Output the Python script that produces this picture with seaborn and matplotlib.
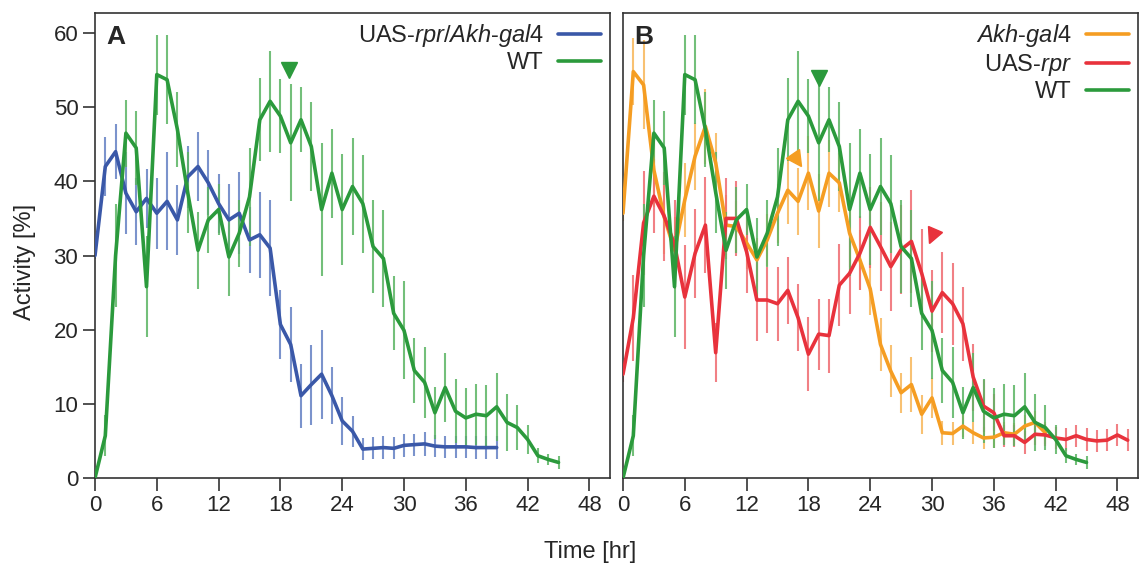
import numpy as np
import matplotlib
matplotlib.use('Agg')
import matplotlib.pyplot as plt
import pandas as pd
import seaborn as sns
from matplotlib.markers import MarkerStyle
from matplotlib.transforms import Affine2D

# Activity [%] per hour
wt = [0.0, 5.7, 30.0, 46.5, 44.5, 25.8, 54.4, 53.7, 47.0, 38.5,
      30.7, 34.8, 36.2, 29.8, 33.0, 37.9, 48.3, 50.8, 48.8, 45.2,
      48.3, 44.7, 36.2, 41.1, 36.2, 39.3, 37.0, 31.2, 29.6, 22.2,
      19.9, 14.5, 12.9, 8.8, 12.2, 9.0, 8.1, 8.6, 8.4, 9.6,
      7.5, 6.8, 5.2, 3.0, 2.5, 2.1]
wt_err = [0.3, 2.8, 7.0, 4.5, 5.0, 6.8, 5.4, 6.0, 5.0, 5.5,
          5.2, 4.5, 3.5, 5.3, 4.5, 6.6, 5.6, 6.8, 5.0, 7.9,
          4.4, 6.0, 9.0, 6.0, 7.5, 6.5, 6.6, 6.3, 6.6, 5.0,
          6.6, 4.4, 4.8, 3.5, 4.6, 4.3, 4.0, 4.1, 4.1, 4.6,
          3.8, 3.0, 1.9, 1.0, 0.8, 0.9]

ablated = [30.0, 42.0, 44.0, 38.4, 35.9, 37.7, 35.7, 37.3, 34.8, 40.6,
           42.0, 39.8, 37.0, 34.8, 35.7, 32.1, 32.8, 31.0, 20.7, 18.0,
           11.1, 12.6, 14.0, 11.1, 7.7, 6.3, 3.9, 4.0, 4.1, 4.0,
           4.4, 4.5, 4.6, 4.3, 4.2, 4.2, 4.2, 4.1, 4.1, 4.1]
ablated_err = [0.5, 4.0, 3.7, 5.5, 4.5, 4.0, 4.8, 6.6, 4.7, 4.2,
               4.7, 4.4, 4.0, 4.8, 5.5, 4.5, 5.8, 6.5, 4.7, 5.0,
               4.3, 5.4, 6.0, 3.8, 3.2, 2.1, 1.5, 1.5, 1.5, 1.5,
               1.6, 1.5, 1.6, 1.5, 1.5, 1.5, 1.5, 1.5, 1.5, 1.5]

akh = [35.7, 54.8, 53.0, 41.5, 35.2, 30.7, 37.5, 43.4, 47.4, 42.5,
       34.1, 33.9, 31.7, 29.4, 32.1, 35.7, 38.8, 37.3, 41.1, 36.0,
       41.1, 39.8, 33.0, 29.4, 25.5, 18.0, 14.4, 11.5, 12.6, 8.6,
       10.8, 6.1, 6.0, 7.0, 6.1, 5.4, 5.5, 6.1, 5.9, 7.0,
       7.5, 6.1]
akh_err = [1.0, 4.5, 6.0, 5.0, 5.0, 4.5, 5.0, 4.5, 5.0, 4.0,
           4.0, 3.5, 3.5, 3.0, 3.5, 4.0, 4.5, 4.5, 5.0, 5.0,
           4.5, 4.0, 4.5, 4.0, 3.5, 3.6, 3.5, 2.7, 3.7, 2.6,
           2.7, 1.6, 1.5, 1.5, 1.5, 1.5, 1.5, 1.5, 1.5, 1.5,
           1.5, 1.5]

rpr = [14.0, 21.6, 34.4, 38.0, 35.3, 31.5, 24.4, 30.3, 34.1, 16.9,
       35.0, 35.0, 30.5, 24.0, 24.0, 23.5, 25.3, 21.6, 16.7, 19.4,
       19.2, 26.0, 27.6, 30.3, 33.8, 31.2, 28.5, 30.8, 31.9, 27.6,
       22.5, 25.0, 23.5, 20.8, 13.6, 9.7, 8.8, 5.7, 5.7, 4.8,
       5.9, 5.8, 5.4, 5.2, 5.7, 5.2, 5.0, 5.1, 5.8, 5.1]
rpr_err = [1.0, 5.8, 7.0, 5.0, 6.0, 6.0, 7.0, 6.0, 6.5, 4.0,
           5.5, 5.0, 5.5, 5.5, 4.5, 5.0, 4.5, 4.5, 5.0, 4.8,
           5.0, 5.5, 5.5, 5.0, 5.5, 6.0, 6.0, 6.0, 7.0, 6.0,
           5.5, 5.5, 5.5, 5.0, 4.5, 3.5, 2.5, 1.5, 1.5, 1.5,
           1.5, 1.5, 1.5, 1.5, 1.5, 1.5, 1.5, 1.5, 1.5, 1.5]

# arrowheads marking the evening peaks: (hour, activity, rotation of an up-triangle)
arrows_a = [(18.8, 55.0, 180, 'WT')]
arrows_b = [(19.0, 54.0, 180, 'WT'), (16.9, 42.9, 215, 'akh'), (30.0, 32.6, 155, 'rpr')]

lab_abl = r'UAS-$\mathit{rpr/Akh}$-$\mathit{gal4}$'
lab_akh = r'$\mathit{Akh}$-$\mathit{gal4}$'
lab_rpr = r'UAS-$\mathit{rpr}$'
colors = {'WT': '#2b9a3c', lab_abl: '#3a58a8', lab_akh: '#f59d22', lab_rpr: '#e8323c'}
bar_colors = {'WT': '#5bb463', lab_abl: '#6480c4', lab_akh: '#f7b659', lab_rpr: '#ef6a70'}

sns.set_style('ticks')
plt.rcParams['font.family'] = ['Liberation Sans', 'DejaVu Sans']
plt.rcParams['mathtext.fontset'] = 'custom'
plt.rcParams['mathtext.rm'] = 'Liberation Sans'
plt.rcParams['mathtext.it'] = 'Liberation Sans:italic'


def make_df(series):
    rows = []
    for name, vals, errs in series:
        for t, (v, e) in enumerate(zip(vals, errs)):
            rows.append({'hour': t, 'activity': v, 'err': e, 'genotype': name})
    return pd.DataFrame(rows)


df_a = make_df([(lab_abl, ablated, ablated_err), ('WT', wt, wt_err)])
df_b = make_df([(lab_akh, akh, akh_err), (lab_rpr, rpr, rpr_err), ('WT', wt, wt_err)])

fig = plt.figure(figsize=(11.39, 5.64), dpi=100)
ax_a = fig.add_axes([95 / 1139, 86 / 564, 515 / 1139, 465 / 564])
ax_b = fig.add_axes([623 / 1139, 86 / 564, 515 / 1139, 465 / 564])

for ax, df, letter, arrows in [(ax_a, df_a, 'A', arrows_a), (ax_b, df_b, 'B', arrows_b)]:
    order = list(dict.fromkeys(df['genotype']))
    for g in order:
        sub = df[df['genotype'] == g]
        ax.vlines(sub['hour'], sub['activity'] - sub['err'], sub['activity'] + sub['err'],
                  color=bar_colors[g], lw=1.5, alpha=0.85, zorder=1)
    sns.lineplot(data=df, x='hour', y='activity', hue='genotype', hue_order=order,
                 palette=colors, lw=2.6, ax=ax, zorder=3, legend=True)
    for x, y, rot, who in arrows:
        key = {'WT': 'WT', 'akh': lab_akh, 'rpr': lab_rpr}[who]
        m = MarkerStyle('^', transform=Affine2D().rotate_deg(rot))
        ax.plot([x], [y], marker=m, ms=11, color=colors[key], ls='none', zorder=4)

    handles, labels = ax.get_legend_handles_labels()
    ax.legend(handles, labels, loc='upper right', frameon=False, markerfirst=False,
              fontsize=17, handlelength=1.8, handletextpad=0.6, labelspacing=0.12,
              borderaxespad=0.2, borderpad=0.2)
    ax.text(0.022, 0.975, letter, transform=ax.transAxes, fontsize=19,
            fontweight='bold', va='top', ha='left')

    ax.set_xlim(0, 50)
    ax.set_ylim(0, 62.7)
    ax.set_xticks(np.arange(0, 49, 6))
    ax.set_xlabel('')
    ax.set_ylabel('')
    for s in ax.spines.values():
        s.set_visible(True)
        s.set_linewidth(1.2)
        s.set_color('#333333')
    ax.tick_params(axis='both', direction='out', length=9, width=1.2,
                   color='#333333', labelsize=16, pad=3)

ax_a.set_yticks(np.arange(0, 61, 10))
ax_b.set_yticks([])

fig.text(590 / 1139, 1 - 552 / 564, 'Time [hr]', ha='center', va='center', fontsize=17)
fig.text(25 / 1139, 1 - 262 / 564, 'Activity [%]', ha='center', va='center',
         rotation=90, fontsize=17)

fig.savefig('out.png', dpi=100)
